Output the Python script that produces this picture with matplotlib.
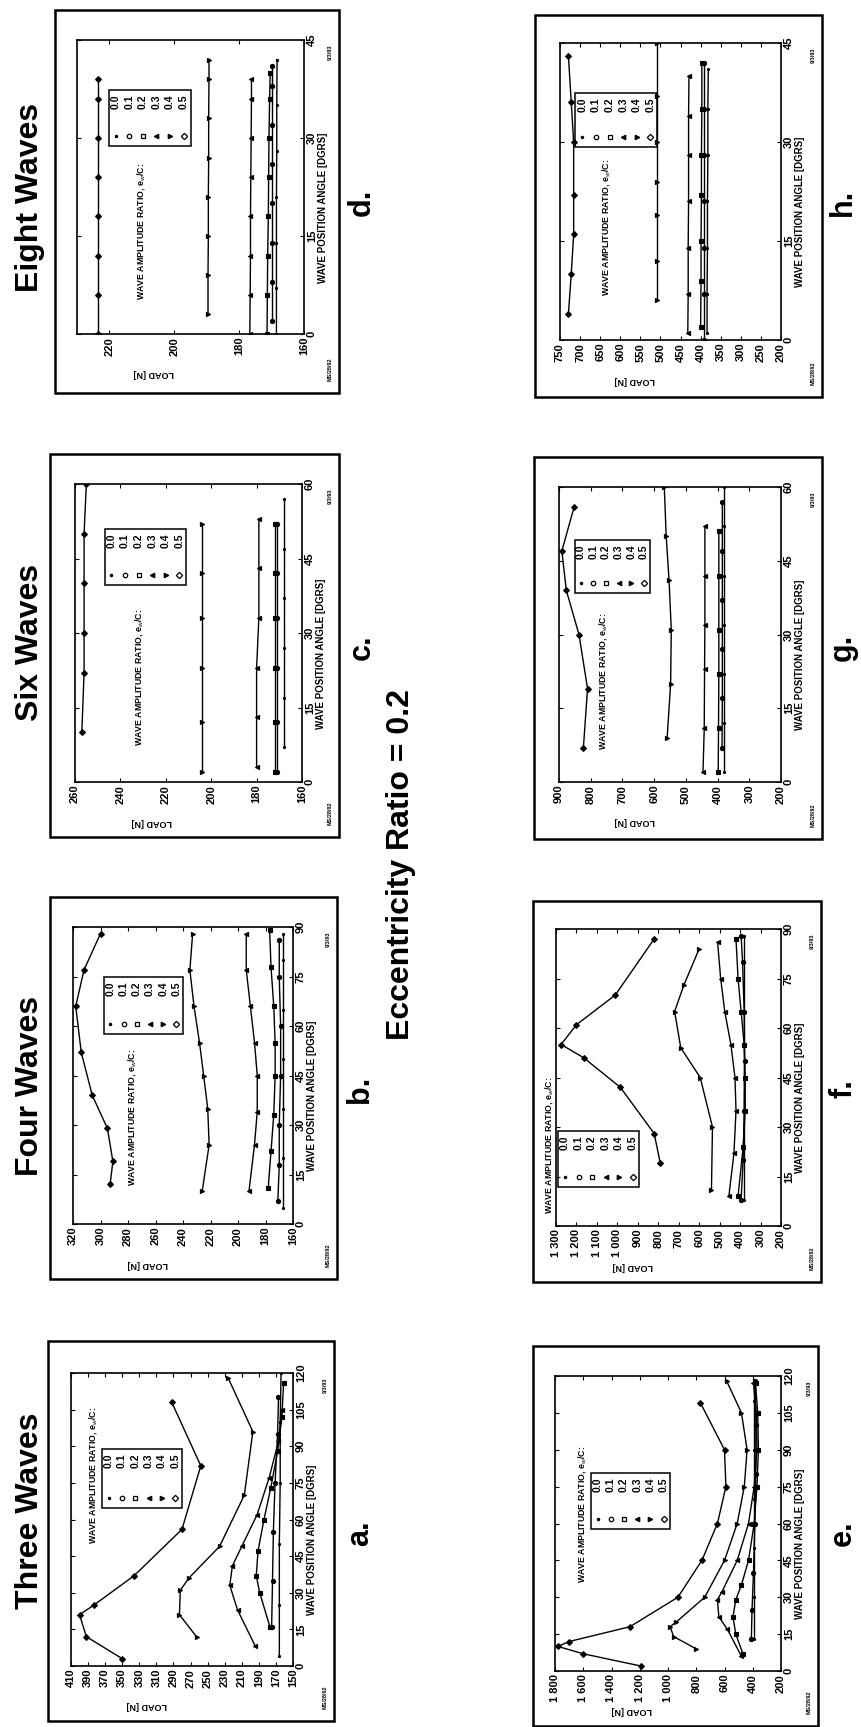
import matplotlib
matplotlib.use("Agg")
import matplotlib.pyplot as plt
from matplotlib.patches import Rectangle

plt.rcParams["font.family"] = ["Liberation Sans", "DejaVu Sans"]

W, H = 861, 1727

ratios = ["0.0", "0.1", "0.2", "0.3", "0.4", "0.5"]
markers = [".", "o", "s", "<", ">", "D"]
legend_face = ["k", "w", "w", "k", "k", "w"]

# ---- data: one list per amplitude ratio 0.0 .. 0.5 ----
# panel a: three waves
a_angle = [[4, 25, 50, 75, 100, 120],
           [16, 35, 55, 75, 95, 110],
           [16, 30, 37, 47, 60, 73, 88, 102, 116],
           [8, 23, 33, 41, 49, 62, 77, 92, 105],
           [12, 21, 31, 36, 49, 70, 96, 118],
           [3, 12, 21, 25, 37, 56, 82, 108]]
a_load = [[166, 166, 166, 165, 165, 164],
          [175, 174, 173, 171, 168, 167],
          [177, 189, 193, 191, 184, 176, 168, 163, 161],
          [194, 215, 224, 221, 210, 192, 178, 167, 163],
          [263, 283, 282, 272, 236, 207, 197, 226],
          [350, 392, 400, 383, 336, 280, 258, 292]]

# panel b: four waves
b_angle = [[5, 20, 35, 50, 65, 80, 88],
           [7, 18, 30, 45, 60, 75, 86],
           [11, 22, 33, 45, 55, 66, 78, 89],
           [10, 24, 34, 45, 55, 66, 77, 88],
           [10, 24, 35, 45, 55, 66, 77, 88],
           [12, 19, 29, 39, 52, 66, 77, 88]]
b_load = [[167, 167, 167, 167, 167, 167, 167],
          [171, 170, 170, 169, 169, 170, 170],
          [178, 176, 174, 173, 173, 174, 176, 177],
          [192, 188, 186, 186, 188, 191, 194, 194],
          [226, 221, 222, 225, 228, 232, 235, 233],
          [293, 291, 295, 306, 314, 318, 312, 300]]

# panel c: six waves
c_angle = [[7, 17, 27, 37, 47, 57],
           [2, 12, 23, 33, 42, 52],
           [2, 12, 23, 33, 42, 52],
           [3, 13, 23, 33, 43, 53],
           [2, 12, 23, 33, 42, 52],
           [10, 22, 30, 40, 50, 60]]
c_load = [[168, 168, 168, 168, 168, 168],
          [171, 171, 171, 171, 171, 171],
          [172, 172, 172, 172, 172, 172],
          [180, 180, 180, 179, 179, 179],
          [204, 204, 204, 204, 204, 204],
          [257, 256, 256, 256, 256, 255]]

# panel d: eight waves
d_angle = [[0, 7, 14, 21, 28, 35, 42],
           [2, 8, 14, 20, 26, 32, 38, 41],
           [0, 6, 12, 18, 24, 30, 36, 40],
           [0, 6, 12, 18, 24, 30, 36, 39],
           [3, 9, 15, 21, 27, 33, 39, 42],
           [0, 6, 12, 18, 24, 30, 36, 39]]
d_load = [[168.5, 168.5, 168.5, 168.5, 168.4, 168.4, 168.3],
          [170, 170, 170, 170, 170, 170, 170, 170],
          [171.4, 171.3, 171.2, 171, 170.9, 170.8, 170.6, 170.4],
          [176.7, 176.6, 176.5, 176.5, 176.4, 176.3, 176.2, 176.2],
          [189.6, 189.6, 189.5, 189.5, 189.4, 189.4, 189.3, 189.3],
          [223.5, 223.5, 223.5, 223.5, 223.5, 223.5, 223.5, 223.5]]

# panel e: three waves
e_angle = [[13, 30, 50, 70, 90, 110, 118],
           [13, 25, 40, 60, 80, 100, 118],
           [7, 15, 22, 29, 35, 45, 60, 75, 90, 105, 117],
           [6, 17, 22, 29, 32, 45, 60, 75, 90, 105, 117],
           [9, 14, 18, 20, 30, 45, 60, 75, 90, 105, 118],
           [2, 7, 10, 12, 18, 30, 45, 60, 75, 90, 109]]
e_load = [[390, 390, 390, 390, 390, 390, 390],
          [410, 405, 395, 385, 378, 378, 382],
          [470, 520, 540, 520, 480, 430, 390, 370, 360, 365, 380],
          [480, 580, 640, 650, 620, 510, 430, 390, 370, 375, 395],
          [800, 960, 985, 940, 740, 600, 510, 460, 440, 480, 585],
          [1190, 1600, 1780, 1700, 1270, 930, 760, 650, 590, 600, 770]]

# panel f: four waves
f_angle = [[8, 20, 35, 50, 65, 80, 88],
           [8, 20, 35, 50, 65, 80, 88],
           [9, 24, 35, 45, 55, 65, 75, 87],
           [9, 22, 35, 45, 55, 65, 75, 86],
           [11, 30, 45, 54, 65, 73, 84],
           [19, 28, 42, 51, 55, 61, 70, 87]]
f_load = [[380, 380, 380, 380, 380, 380, 380],
          [395, 385, 380, 378, 380, 388, 395],
          [410, 385, 375, 375, 380, 395, 410, 420],
          [455, 430, 420, 425, 445, 475, 495, 510],
          [540, 535, 595, 690, 720, 675, 600],
          [790, 820, 985, 1165, 1275, 1200, 1010, 820]]

# panel g: six waves
g_angle = [[2, 12, 22, 32, 42, 52, 60],
           [7, 17, 27, 37, 47, 57],
           [2, 11, 22, 31, 42, 51],
           [2, 11, 23, 32, 42, 52],
           [9, 20, 31, 41, 50, 60],
           [7, 19, 30, 39, 47, 56]]
g_load = [[380, 380, 380, 380, 380, 380, 380],
          [386, 385, 385, 385, 385, 385],
          [398, 397, 396, 396, 396, 396],
          [446, 442, 441, 440, 440, 440],
          [559, 548, 546, 553, 562, 568],
          [823, 810, 837, 877, 891, 852]]

# panel h: eight waves
h_angle = [[1, 7, 14, 21, 28, 35, 41],
           [0, 7, 14, 21, 28, 35, 42],
           [2, 9, 15, 22, 28, 35, 42],
           [1, 7, 14, 21, 28, 34, 40],
           [6, 12, 19, 24, 30, 37, 45],
           [4, 10, 16, 22, 30, 36, 43]]
h_load = [[384, 384, 383, 383, 382, 382, 381],
          [392, 392, 392, 392, 392, 392, 392],
          [400, 399, 399, 398, 398, 397, 397],
          [432, 431, 431, 430, 430, 430, 429],
          [508, 508, 508, 508, 508, 508, 508],
          [729, 722, 716, 716, 716, 722, 729]]

fig = plt.figure(figsize=(W / 100, H / 100), dpi=100)


def fig_rect(x0, y0, x1, y1):
    # pixel box (top-left origin) -> figure fraction [left, bottom, width, height]
    return [x0 / W, 1 - y1 / H, (x1 - x0) / W, (y1 - y0) / H]


def thousands(v):
    return "1 %03d" % (v - 1000) if v >= 1000 else str(v)


def panel(box, frame, angles, loads, lticks, llim, amax, leg, title):
    l, b, w, h = fig_rect(*frame)
    fig.add_artist(Rectangle((l, b), w, h, transform=fig.transFigure,
                             fill=False, lw=1.8, ec="k"))
    ax = fig.add_axes(fig_rect(*box))
    # the page is turned on its side: load runs right-to-left, angle runs upward
    for i in range(6):
        ax.plot(loads[i], angles[i], "-", color="k", lw=1.0, marker=markers[i],
                ms=3.0, mfc="k", mec="k", mew=0.8)
    ax.set_xlim(llim)
    ax.set_ylim(0, amax)
    ax.set_xticks(lticks)
    ax.set_xticklabels([thousands(t) for t in lticks], rotation=90, fontsize=8,
                       fontweight="bold")
    ax.set_yticks(range(0, amax + 1, 15))
    ax.set_yticklabels([str(t) for t in range(0, amax + 1, 15)], rotation=90,
                       va="center", fontsize=8, fontweight="bold")
    ax.tick_params(direction="in", length=3, width=0.8, pad=2,
                   top=True, bottom=True, left=True, right=True,
                   labelleft=False, labelright=True)
    for s in ax.spines.values():
        s.set_linewidth(1.2)
    ax.yaxis.set_label_position("right")
    ax.set_ylabel("WAVE POSITION ANGLE [DGRS]", rotation=90, fontsize=7,
                  fontweight="bold")
    ax.yaxis.set_label_coords(1.085, 0.43)
    ax.yaxis.label.set_va("center")
    ax.set_xlabel("LOAD [N]", rotation=180, fontsize=6.5, fontweight="bold")
    ax.xaxis.set_label_coords(0.34, -0.135)
    ax.xaxis.label.set_va("center")

    bx0, bx1, by0, by1 = leg
    ax.add_patch(Rectangle((bx0, by0), bx1 - bx0, by1 - by0, transform=ax.transAxes,
                           fill=False, lw=1.1, ec="k"))
    step = (bx1 - bx0) / 6
    for i, r in enumerate(ratios):
        cx = bx0 + (i + 0.5) * step
        ax.text(cx, by1 - 0.015, r, rotation=90, ha="center", va="top",
                fontsize=7.5, fontweight="bold", transform=ax.transAxes)
        ax.plot([cx], [by0 + 0.035], marker=markers[i], ms=3.2,
                mfc=legend_face[i], mec="k", mew=0.9, transform=ax.transAxes,
                clip_on=False)
    tx, ty = title
    ax.text(tx, ty, "WAVE AMPLITUDE RATIO, e$_w$/C:", rotation=90, ha="center",
            va="center", fontsize=6.3, fontweight="bold", transform=ax.transAxes,
            clip_on=False)

    # plotter date stamps in the frame corners
    fx = (frame[2] - 9) / W
    fig.text(fx, 1 - (frame[3] - 24) / H, "MS/28/92", rotation=90, fontsize=4,
             fontweight="bold", ha="center", va="center")
    fig.text(fx, 1 - (box[1] + 12) / H, "9/3/93", rotation=90, fontsize=4,
             fontweight="bold", ha="center", va="center")
    return ax


panel((71, 1373, 293, 1666), (48, 1341, 334, 1721), a_angle, a_load,
      list(range(410, 149, -20)), (410, 150), 120,
      (0.14, 0.50, 0.54, 0.74), (0.10, 0.65))
panel((73, 927, 293, 1224), (50, 897, 337, 1279), b_angle, b_load,
      list(range(320, 159, -20)), (320, 160), 90,
      (0.14, 0.50, 0.64, 0.83), (0.27, 0.36))
panel((75, 484, 302, 782), (50, 454, 339, 837), c_angle, c_load,
      list(range(260, 159, -20)), (260, 160), 60,
      (0.13, 0.49, 0.66, 0.85), (0.28, 0.35))
panel((77, 40, 304, 334), (55, 10, 339, 393), d_angle, d_load,
      [220, 200, 180, 160], (230, 160), 45,
      (0.14, 0.50, 0.64, 0.83), (0.28, 0.35))
panel((555, 1376, 781, 1671), (533, 1346, 818, 1726), e_angle, e_load,
      list(range(1800, 199, -200)), (1800, 200), 120,
      (0.16, 0.51, 0.48, 0.67), (0.12, 0.53))
panel((556, 929, 781, 1226), (533, 901, 821, 1282), f_angle, f_load,
      list(range(1300, 199, -100)), (1300, 200), 90,
      (0.01, 0.37, 0.13, 0.32), (-0.03, 0.27))
panel((559, 487, 781, 782), (534, 457, 822, 839), g_angle, g_load,
      list(range(900, 199, -100)), (900, 200), 60,
      (0.07, 0.41, 0.64, 0.82), (0.20, 0.34))
panel((560, 43, 781, 340), (535, 15, 822, 397), h_angle, h_load,
      list(range(750, 199, -50)), (750, 200), 45,
      (0.07, 0.44, 0.65, 0.83), (0.21, 0.38))

# column headings, panel letters and the common caption
for name, yc in [("Three Waves", 1511), ("Four Waves", 1086),
                 ("Six Waves", 642), ("Eight Waves", 197)]:
    fig.text(30 / W, 1 - yc / H, name, rotation=90, ha="center", va="center",
             fontsize=23, fontweight="bold")
for letter, xc, yc in [("a.", 360, 1533), ("b.", 360, 1089), ("c.", 362, 647),
                       ("d.", 362, 202), ("e.", 843, 1533), ("f.", 843, 1089),
                       ("g.", 843, 647), ("h.", 843, 202)]:
    fig.text(xc / W, 1 - yc / H, letter, rotation=90, ha="center", va="center",
             fontsize=22, fontweight="bold")
fig.text(401 / W, 1 - 865 / H, "Eccentricity Ratio = 0.2", rotation=90,
         ha="center", va="center", fontsize=23, fontweight="bold")

fig.savefig("out.png", dpi=100)
